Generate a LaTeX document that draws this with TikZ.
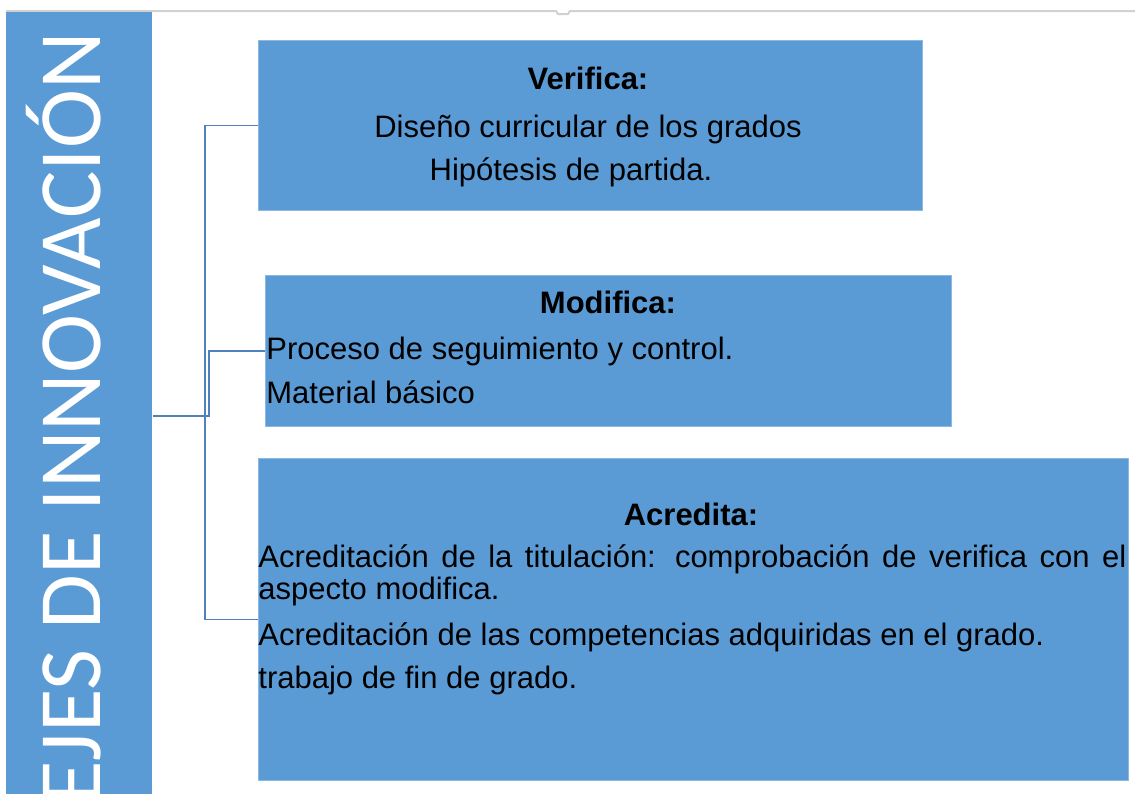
\documentclass[tikz,border=0pt]{standalone}
\usepackage{fontspec}
\setmainfont{Liberation Sans}
\newfontfamily\barfont{Carlito}
\usepackage{tikz}
\usetikzlibrary{calc}
\definecolor{boxblue}{HTML}{5B9BD5}
\definecolor{linkblue}{HTML}{4F81BD}

\begin{document}
\begin{tikzpicture}[x=0.5pt,y=-0.5pt,
        box/.style={fill=boxblue, draw=boxblue!70!white, line width=0.4pt, inner sep=0, anchor=north west},
        link/.style={draw=linkblue, line width=0.9pt},
        txt/.style={inner sep=0, font=\fontsize{15.5}{17}\selectfont},
        head/.style={txt, font=\fontsize{15.5}{17}\selectfont\bfseries}]
        \useasboundingbox (0,0) rectangle (1135,794);

        \draw[black!18, line width=1pt] (6,11) -- (556,11) -- (558,14) -- (568,14) -- (570,11) -- (1135,11);

        % left bar
        \node[box, draw=none, minimum width=73pt, minimum height=391pt] (bar) at (6,12) {};
        \node[rotate=90, anchor=base east, inner sep=0, text=white, font=\barfont\fontsize{44.5}{50}\selectfont] (lbl) at (100,32) {EJES DE INNOVACIÓN};
        \coordinate (root) at (bar.east |- 0,416);

        % boxes
        \node[box, minimum width=332pt, minimum height=85pt] (verifica) at (258,40) {};
        \node[box, minimum width=343pt, minimum height=75.5pt] (modifica) at (265,275) {};
        \node[box, minimum width=435pt, minimum height=161pt] (acredita) at (258,458) {};

        \draw[link] (root) -- ++(52,0) |- (verifica.west);
        \draw[link] (root) -- ++(56,0) |- (modifica.west);
        \draw[link] (root) -- ++(52,0) |- (acredita.west);

        \node[head, anchor=base] at (588,89) {Verifica:};
        \node[txt, anchor=base] at (588,137) {Diseño curricular de los grados};
        \node[txt, anchor=base] at (571,180) {Hipótesis de partida.};

        \node[head, anchor=base] at (608,313) {Modifica:};
        \node[txt, anchor=base west] at (266,359) {Proceso de seguimiento y control.};
        \node[txt, anchor=base west] at (266,403) {Material básico};

        \node[head, anchor=base] at (691,525) {Acredita:};
        \node[txt, anchor=base west] at (258,567) {\makebox[434pt][s]{Acreditación de la titulación: comprobación de verifica con el}};
        \node[txt, anchor=base west] at (258,599) {aspecto modifica.};
        \node[txt, anchor=base west] at (258,645) {Acreditación de las competencias adquiridas en el grado.};
        \node[txt, anchor=base west] at (258,688) {trabajo de fin de grado.};
\end{tikzpicture}
\end{document}
